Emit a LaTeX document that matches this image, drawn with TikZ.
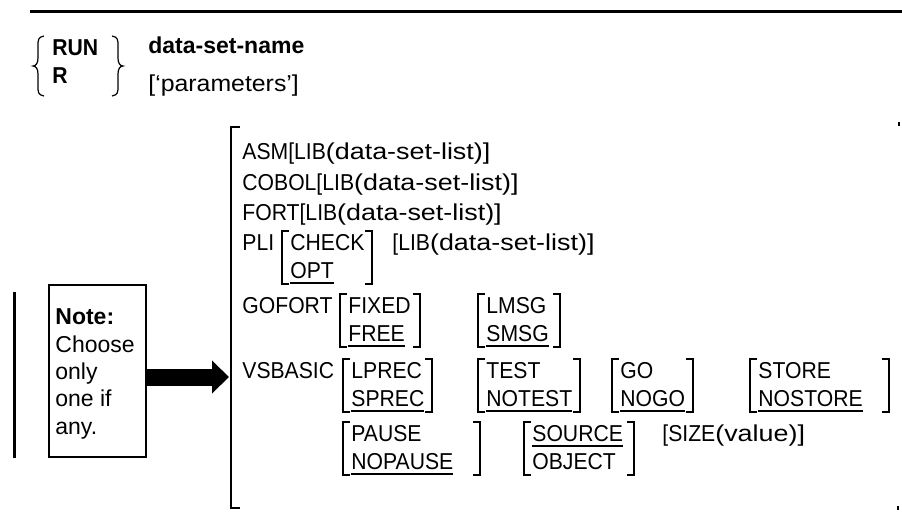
\documentclass[tikz,border=0pt]{standalone}
\usepackage{fontspec}
\setmainfont{Liberation Sans}
\newfontfamily\capf{Liberation Sans}[FakeStretch=0.92]
\newfontfamily\lowf{Liberation Sans}[FakeStretch=1.17]
\newfontfamily\parf{Liberation Sans}[FakeStretch=1.08]
\usetikzlibrary{arrows.meta,calc}
\newcommand{\ulx}[1]{\setbox0=\hbox{#1}\rlap{\rule[-2.8pt]{\wd0}{1pt}}\box0}
\newcommand{\optgrp}[7]{% name, x[, x], baseline, top, bottom, text x
  \node[txt] (#1t) at (#7,#4) {#5};
  \node[txt] (#1b) at (#7,#4+28) {#6};
  \draw[brk] (#2+7,#4-19) -- (#2,#4-19) -- (#2,#4+34) -- (#2+7,#4+34);
  \draw[brk] (#3-7,#4-19) -- (#3,#4-19) -- (#3,#4+34) -- (#3-7,#4+34);
}
\begin{document}
\begin{tikzpicture}[x=0.5pt,y=-0.5pt,
  txt/.style={font=\capf\fontsize{11.5}{14}\selectfont, inner sep=0pt, anchor=base west},
  ntxt/.style={font=\fontsize{11.5}{14}\selectfont, inner sep=0pt, anchor=base west},
  btxt/.style={ntxt, font=\fontsize{11.5}{14}\selectfont\bfseries},
  brk/.style={line width=0.9pt},
  bigbrk/.style={line width=1pt},
  bigarrow/.style={line width=8.5pt, -{Triangle[length=8.5pt,width=16pt]}}]
\useasboundingbox (0,0) rectangle (902,521);
% top rule
\draw[line width=1.5pt] (30,11) -- (902,11);
% RUN / R with braces
\node[txt, font=\capf\fontsize{11.5}{14}\selectfont\bfseries] (run) at (52,55) {RUN};
\node[txt, font=\capf\fontsize{11.5}{14}\selectfont\bfseries] (r) at (52,83) {R};
\draw[line width=0.6pt] (44,36) .. controls (38,37) and (38,40) .. (38,46) -- (38,58)
  .. controls (38,63) and (36,66) .. (33,66) .. controls (36,66) and (38,69) .. (38,74)
  -- (38,86) .. controls (38,92) and (38,95) .. (44,96);
\draw[line width=0.6pt] (112,36) .. controls (118,37) and (118,40) .. (118,46) -- (118,58)
  .. controls (118,63) and (120,66) .. (123,66) .. controls (120,66) and (118,69) .. (118,74)
  -- (118,86) .. controls (118,92) and (118,95) .. (112,96);
\node[btxt] (dsn) at (148,53) {data-set-name};
\node[ntxt, font=\parf\fontsize{11.5}{14}\selectfont] (parm) at (148,91) {[‘parameters’]};
% big bracket
\draw[bigbrk] (240,127) -- (231,127) -- (231,508) -- (240,508);
\draw[line width=0.8pt] (899,122) -- (899,126);
\draw[line width=0.8pt] (898,506) -- (898,510);
% language lines
\node[txt] (asm) at (242,159) {ASM[LIB\lowf(data-set-list)]};
\node[txt] (cobol) at (242,190) {COBOL[LIB\lowf(data-set-list)]};
\node[txt] (fort) at (242,220) {FORT[LIB\lowf(data-set-list)]};
\node[txt] (pli) at (242,250) {PLI};
\optgrp{chk}{282}{372}{250}{CHECK}{\ulx{OPT}}{290}
\node[txt] (plilib) at (392,250) {[LIB\lowf(data-set-list)]};
\node[txt] (gofort) at (242,313) {GOFORT};
\optgrp{fix}{340}{420}{313}{FIXED}{\ulx{FREE}}{348}
\optgrp{lmsg}{478}{560}{313}{LMSG}{\ulx{SMSG}}{486}
\node[txt] (vsb) at (242,378) {VSBASIC};
\optgrp{prec}{343}{432}{378}{LPREC}{\ulx{SPREC}}{351}
\optgrp{test}{478}{580}{378}{TEST}{\ulx{NOTEST}}{486}
\optgrp{go}{612}{693}{378}{GO}{\ulx{NOGO}}{620}
\optgrp{store}{750}{889}{378}{STORE}{\ulx{NOSTORE}}{758}
\optgrp{pause}{343}{480}{441}{PAUSE}{\ulx{NOPAUSE}}{351}
\optgrp{src}{524}{634}{441}{\ulx{SOURCE}}{OBJECT}{532}
\node[txt] (size) at (662,441) {[SIZE\lowf(value)]};
% note
\draw[line width=1.5pt] (14,292) -- (14,458);
\node[draw, line width=1.1pt, minimum width=48.5pt, minimum height=86pt, inner sep=0pt, anchor=north west] (note) at (48,284) {};
\node[btxt] (n1) at (55,324) {Note:};
\node[ntxt] (n2) at (55,352) {Choose};
\node[ntxt] (n3) at (55,379) {only};
\node[ntxt] (n4) at (55,406) {one if};
\node[ntxt] (n5) at (55,434) {any.};
\coordinate (tip) at (229,377);
\draw[bigarrow] (note.east |- tip) -- (tip);
\end{tikzpicture}
\end{document}
